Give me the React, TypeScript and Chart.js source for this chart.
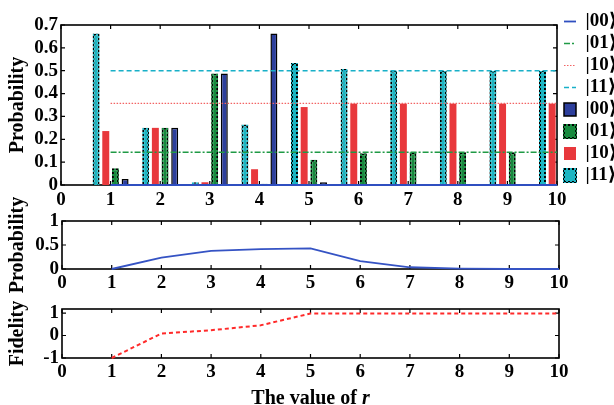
import React, { useEffect, useRef } from 'react';
import { Chart, registerables } from 'chart.js';

Chart.register(...registerables);

// ---- data ----
const rValues = [1, 2, 3, 4, 5, 6, 7, 8, 9, 10];
const stateLabels = ['|00\u27E9', '|01\u27E9', '|10\u27E9', '|11\u27E9'];

// measured probabilities (bars)
const bar11 = [0.663, 0.25, 0.012, 0.265, 0.534, 0.507, 0.501, 0.5, 0.5, 0.5];
const bar10 = [0.236, 0.25, 0.012, 0.069, 0.341, 0.356, 0.356, 0.356, 0.356, 0.356];
const bar01 = [0.073, 0.25, 0.488, 0.005, 0.111, 0.139, 0.143, 0.143, 0.143, 0.143];
const bar00 = [0.026, 0.25, 0.488, 0.663, 0.012, 0.003, 0.003, 0.003, 0.003, 0.003];

// ideal probabilities (lines)
const ideal00 = [0, 0, 0, 0, 0, 0, 0, 0, 0, 0];
const ideal01 = [0.143, 0.143, 0.143, 0.143, 0.143, 0.143, 0.143, 0.143, 0.143, 0.143];
const ideal10 = [0.357, 0.357, 0.357, 0.357, 0.357, 0.357, 0.357, 0.357, 0.357, 0.357];
const ideal11 = [0.5, 0.5, 0.5, 0.5, 0.5, 0.5, 0.5, 0.5, 0.5, 0.5];

// middle panel probability
const successProb = [0, 0.236, 0.379, 0.414, 0.43, 0.164, 0.036, 0.008, 0, 0];
// bottom panel fidelity
const fidelity = [-1, 0.09, 0.235, 0.456, 0.98, 0.98, 0.98, 0.98, 0.98, 0.98];

const topYTicks = [0, 0.1, 0.2, 0.3, 0.4, 0.5, 0.6, 0.7];
const midYTicks = [0, 0.5, 1];
const botYTicks = [-1, 0, 1];

const FONT = "'Liberation Serif', 'Times New Roman', 'DejaVu Serif', serif";
const tickFont = { family: FONT, size: 19, weight: 'bold' as const };
const titleFont = { family: FONT, size: 20, weight: 'bold' as const };

const pts = (vals: number[]) => rValues.map((x, i) => ({ x, y: vals[i] }));

function checker(ctx: CanvasRenderingContext2D, color: string) {
  const c = document.createElement('canvas');
  c.width = 4;
  c.height = 4;
  const g = c.getContext('2d')!;
  g.fillStyle = color;
  g.fillRect(0, 0, 4, 4);
  g.fillStyle = '#000';
  g.fillRect(0, 0, 2, 2);
  g.fillRect(2, 2, 2, 2);
  return ctx.createPattern(c, 'repeat');
}

const framePlugin = {
  id: 'frame',
  beforeDatasetsDraw(chart: any) {
    const { ctx, chartArea: a } = chart;
    const xs = chart.scales.x;
    const ys = chart.scales.y;
    ctx.save();
    ctx.strokeStyle = '#000';
    ctx.lineWidth = 1.2;
    ctx.beginPath();
    xs.ticks.forEach((t: any) => {
      const p = xs.getPixelForValue(t.value);
      ctx.moveTo(p, a.bottom);
      ctx.lineTo(p, a.bottom - 4);
      ctx.moveTo(p, a.top);
      ctx.lineTo(p, a.top + 4);
    });
    ys.ticks.forEach((t: any) => {
      const p = ys.getPixelForValue(t.value);
      ctx.moveTo(a.left, p);
      ctx.lineTo(a.left + 4, p);
      ctx.moveTo(a.right, p);
      ctx.lineTo(a.right - 4, p);
    });
    ctx.stroke();
    ctx.lineWidth = 1.6;
    ctx.strokeRect(a.left, a.top, a.right - a.left, a.bottom - a.top);
    ctx.restore();
  },
};

function xScale(height: number, pad: number) {
  return {
    type: 'linear',
    position: 'bottom',
    min: 0,
    max: 10,
    offset: false,
    ticks: { stepSize: 1, font: tickFont, color: '#000', padding: pad, maxRotation: 0, autoSkip: false },
    grid: { display: false, drawTicks: false, offset: false },
    border: { display: false },
    afterFit: (s: any) => {
      s.height = height;
    },
  };
}

function yScale(min: number, max: number, ticks: number[], title: string, width: number) {
  return {
    type: 'linear',
    position: 'left',
    min,
    max,
    ticks: { font: tickFont, color: '#000', padding: 3, autoSkip: false, callback: (v: number) => String(v) },
    afterBuildTicks: (s: any) => {
      s.ticks = ticks.map((v) => ({ value: v }));
    },
    grid: { display: false, drawTicks: false },
    border: { display: false },
    title: { display: true, text: title, font: titleFont, color: '#000', padding: { top: 6, bottom: 0 } },
    afterFit: (s: any) => {
      s.width = width;
    },
  };
}

const legendRank = [0, 1, 2, 3, 7, 6, 5, 4];

export default function App() {
  const topRef = useRef<HTMLCanvasElement>(null);
  const midRef = useRef<HTMLCanvasElement>(null);
  const botRef = useRef<HTMLCanvasElement>(null);

  useEffect(() => {
    const charts: Chart[] = [];
    const topCanvas = topRef.current!;
    const tctx = topCanvas.getContext('2d')!;
    const cyanPattern = checker(tctx, '#1cb5c2');
    const greenPattern = checker(tctx, '#178a3e');

    const barCommon = { categoryPercentage: 0.78, barPercentage: 0.72 };

    charts.push(
      new Chart(topCanvas, {
        type: 'bar',
        data: {
          datasets: [
            { type: 'line', label: stateLabels[0], data: pts(ideal00), borderColor: '#2f4fc0', borderWidth: 1.8, pointRadius: 0, clip: false } as any,
            { type: 'line', label: stateLabels[1], data: pts(ideal01), borderColor: '#1f9a45', borderWidth: 1.5, borderDash: [6, 2, 2, 2], pointRadius: 0 },
            { type: 'line', label: stateLabels[2], data: pts(ideal10), borderColor: '#f26464', borderWidth: 1.2, borderDash: [1.5, 1.5], pointRadius: 0 },
            { type: 'line', label: stateLabels[3], data: pts(ideal11), borderColor: '#18b0c8', borderWidth: 1.5, borderDash: [5, 3], pointRadius: 0 },
            { type: 'bar', label: stateLabels[3], data: pts(bar11), backgroundColor: '#1cb5c2', borderColor: cyanPattern, borderWidth: 2, ...barCommon },
            { type: 'bar', label: stateLabels[2], data: pts(bar10), backgroundColor: '#e8383c', borderWidth: 0, ...barCommon },
            { type: 'bar', label: stateLabels[1], data: pts(bar01), backgroundColor: '#178a3e', borderColor: greenPattern, borderWidth: 2, ...barCommon },
            { type: 'bar', label: stateLabels[0], data: pts(bar00), backgroundColor: '#2d3f9c', borderColor: '#000', borderWidth: 1.5, ...barCommon },
          ] as any,
        },
        options: {
          responsive: false,
          animation: false,
          events: [],
          layout: { padding: { top: 9, left: 0, right: 0, bottom: 0 } },
          plugins: {
            tooltip: { enabled: false },
            legend: {
              position: 'right',
              align: 'start',
              maxWidth: 53,
              labels: {
                font: tickFont,
                color: '#000',
                padding: 3,
                usePointStyle: true,
                pointStyleWidth: 12,
                boxWidth: 12,
                boxHeight: 13,
                generateLabels: (chart: any) =>
                  chart.data.datasets.map((ds: any, i: number) => ({
                    text: ds.label,
                    datasetIndex: i,
                    hidden: false,
                    fontColor: '#000',
                    fillStyle: ds.type === 'line' ? ds.borderColor : ds.backgroundColor,
                    strokeStyle: ds.borderColor || ds.backgroundColor,
                    lineWidth: ds.borderWidth,
                    lineDash: ds.borderDash || [],
                    pointStyle: ds.type === 'line' ? 'line' : 'rect',
                  })),
                sort: (a: any, b: any) => legendRank[a.datasetIndex] - legendRank[b.datasetIndex],
              },
            },
          },
          scales: {
            x: xScale(30, 4),
            x2: {
              type: 'linear',
              position: 'top',
              offset: false,
              ticks: { display: false },
              grid: { display: false, drawTicks: false },
              border: { display: false },
              afterFit: (s: any) => {
                s.height = 16;
              },
            },
            y: yScale(0, 0.7, topYTicks, 'Probability', 61),
            y2: {
              type: 'linear',
              position: 'right',
              ticks: { display: false },
              grid: { display: false, drawTicks: false },
              border: { display: false },
              afterFit: (s: any) => {
                s.width = 4;
              },
            },
          } as any,
        },
        plugins: [framePlugin],
      } as any)
    );

    charts.push(
      new Chart(midRef.current!, {
        type: 'line',
        data: {
          datasets: [
            { label: 'Probability', data: pts(successProb), borderColor: '#3553c4', borderWidth: 1.8, pointRadius: 0, tension: 0, clip: false } as any,
          ],
        },
        options: {
          responsive: false,
          animation: false,
          events: [],
          layout: { padding: { top: 33, left: 0, right: 55, bottom: 0 } },
          plugins: { legend: { display: false }, tooltip: { enabled: false } },
          scales: {
            x: xScale(31, 3),
            y: yScale(0, 1, midYTicks, 'Probability', 62),
          } as any,
        },
        plugins: [framePlugin],
      } as any)
    );

    charts.push(
      new Chart(botRef.current!, {
        type: 'line',
        data: {
          datasets: [
            { label: 'Fidelity', data: pts(fidelity), borderColor: '#ff2a2a', borderWidth: 2, borderDash: [4, 3], pointRadius: 0, tension: 0, clip: false } as any,
          ],
        },
        options: {
          responsive: false,
          animation: false,
          events: [],
          layout: { padding: { top: 19, left: 0, right: 55, bottom: 0 } },
          plugins: { legend: { display: false }, tooltip: { enabled: false } },
          scales: {
            x: xScale(47, 3),
            y: yScale(-1, 1.18, botYTicks, 'Fidelity', 62),
          } as any,
        },
        plugins: [framePlugin],
      } as any)
    );

    return () => {
      charts.forEach((c) => c.destroy());
    };
  }, []);

  const abs = (top: number, height: number, width = 614): React.CSSProperties => ({
    position: 'absolute',
    left: 0,
    top,
    width,
    height,
  });

  return (
    <div style={{ position: 'absolute', left: 0, top: 0, width: 614, height: 405, overflow: 'hidden', background: '#fff' }}>
      <div style={abs(0, 215)}>
        <canvas ref={topRef} width={614} height={215} style={{ width: 614, height: 215, display: 'block' }} />
      </div>
      <div style={abs(188, 112)}>
        <canvas ref={midRef} width={614} height={112} style={{ width: 614, height: 112, display: 'block' }} />
      </div>
      <div style={abs(290, 115)}>
        <canvas ref={botRef} width={614} height={115} style={{ width: 614, height: 115, display: 'block' }} />
      </div>
      <div
        style={{
          position: 'absolute',
          left: 62,
          width: 497,
          top: 386,
          height: 22,
          lineHeight: '22px',
          textAlign: 'center',
          fontFamily: FONT,
          fontWeight: 'bold',
          fontSize: 20,
          color: '#000',
        }}
      >
        The value of <i>r</i>
      </div>
    </div>
  );
}
